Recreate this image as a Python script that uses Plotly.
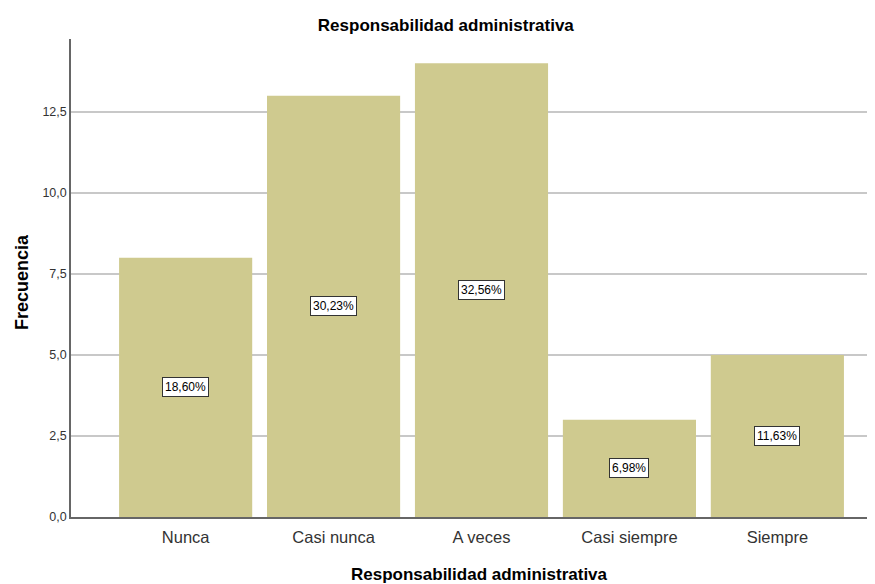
import plotly.graph_objects as go

categories = ["Nunca", "Casi nunca", "A veces", "Casi siempre", "Siempre"]
frequencies = [8, 13, 14, 3, 5]
percent_labels = ["18,60%", "30,23%", "32,56%", "6,98%", "11,63%"]
tick_values = [0, 2.5, 5, 7.5, 10, 12.5]
tick_labels = ["0,0", "2,5", "5,0", "7,5", "10,0", "12,5"]

FONT = "Liberation Sans, Arial"

fig = go.Figure()

fig.add_trace(
    go.Bar(
        x=categories,
        y=frequencies,
        marker=dict(color="#cfca8f", line=dict(width=0)),
        hoverinfo="x+y",
    )
)

# percentage labels boxed in the middle of each bar
for cat, freq, label in zip(categories, frequencies, percent_labels):
    fig.add_annotation(
        x=cat,
        y=freq / 2,
        text=label,
        showarrow=False,
        font=dict(family=FONT, size=12, color="#000000"),
        bgcolor="#ffffff",
        bordercolor="#333333",
        borderwidth=1,
        borderpad=2,
    )

# axis titles placed by hand so they don't push the margins
fig.add_annotation(
    text="<b>Responsabilidad administrativa</b>",
    xref="paper", yref="paper",
    x=0.5087, y=-0.1213,
    xanchor="center", yanchor="middle",
    showarrow=False,
    font=dict(family=FONT, size=17, color="#000000"),
)
fig.add_annotation(
    text="<b>Frecuencia</b>",
    xref="paper", yref="paper",
    x=-0.0609, y=0.4916,
    xanchor="center", yanchor="middle",
    textangle=-90,
    showarrow=False,
    font=dict(family=FONT, size=18, color="#000000"),
)

fig.update_layout(
    width=867,
    height=576,
    margin=dict(l=63, r=0, t=31, b=67),
    paper_bgcolor="#ffffff",
    plot_bgcolor="#ffffff",
    bargap=0.1,
    showlegend=False,
    font=dict(family=FONT, color="#222222"),
    title=dict(
        text="<b>Responsabilidad administrativa</b>",
        x=0.505,
        xanchor="center",
        y=0.970,
        yanchor="middle",
        font=dict(size=17, color="#000000"),
    ),
)

fig.update_xaxes(
    range=[-0.775, 4.66],
    showline=True,
    linecolor="#666666",
    linewidth=1.5,
    ticks="",
    ticklabelstandoff=4,
    tickfont=dict(size=16.5, color="#333333"),
    automargin=False,
)

fig.update_yaxes(
    range=[0, 14.75],
    tickvals=tick_values,
    ticktext=tick_labels,
    showgrid=True,
    gridcolor="#c8c8c8",
    gridwidth=1.5,
    showline=True,
    linecolor="#666666",
    linewidth=1.5,
    ticks="",
    zeroline=False,
    tickfont=dict(size=12.5, color="#333333"),
    automargin=False,
)

fig.write_html("out.html")
